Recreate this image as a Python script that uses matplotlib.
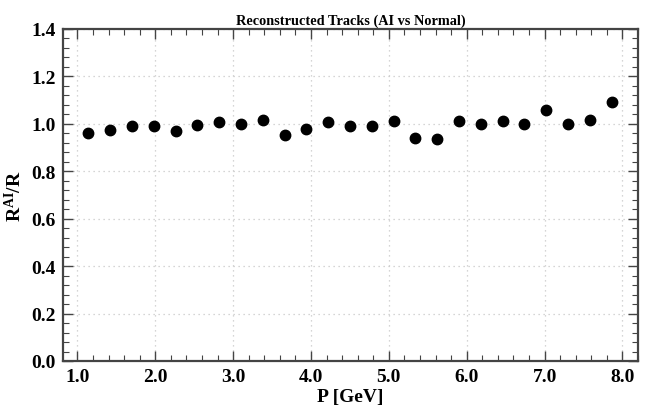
import matplotlib
matplotlib.use('Agg')
import matplotlib.pyplot as plt
from matplotlib.ticker import MultipleLocator, FormatStrFormatter

# momentum bin centres [GeV]
p_gev = [1.14, 1.42, 1.70, 1.98, 2.26, 2.54, 2.82, 3.10, 3.38, 3.66, 3.94, 4.22, 4.50,
         4.78, 5.06, 5.34, 5.62, 5.90, 6.18, 6.46, 6.74, 7.02, 7.30, 7.58, 7.86]
# ratio AI / normal
ratio = [0.960, 0.973, 0.990, 0.993, 0.969, 0.997, 1.007, 1.000, 1.017, 0.955, 0.977, 1.008, 0.992,
         0.990, 1.010, 0.939, 0.937, 1.014, 1.001, 1.014, 1.001, 1.057, 1.001, 1.018, 1.091]

plt.rcParams['font.family'] = 'Liberation Serif'
plt.rcParams['font.weight'] = 'bold'
plt.rcParams['mathtext.fontset'] = 'custom'
plt.rcParams['mathtext.rm'] = 'Liberation Serif:bold'
plt.rcParams['mathtext.bf'] = 'Liberation Serif:bold'
plt.rcParams['mathtext.it'] = 'Liberation Serif:bold'

fig = plt.figure(figsize=(6.53, 4.14), dpi=100)
ax = fig.add_axes([63/653, 1 - 362/414, 575/653, 332/414])

ax.plot(p_gev, ratio, 'o', color='black', ms=7.5, zorder=3)

ax.set_xlim(0.815, 8.2)
ax.set_ylim(0, 1.4)
ax.xaxis.set_major_locator(MultipleLocator(1.0))
ax.xaxis.set_minor_locator(MultipleLocator(0.2))
ax.yaxis.set_major_locator(MultipleLocator(0.2))
ax.yaxis.set_minor_locator(MultipleLocator(0.04))
ax.xaxis.set_major_formatter(FormatStrFormatter('%.1f'))
ax.yaxis.set_major_formatter(FormatStrFormatter('%.1f'))

ax.tick_params(which='both', direction='in', top=True, right=True, color='#444444')
ax.tick_params(which='major', length=7, width=1, labelsize=14, pad=5)
ax.tick_params(which='minor', length=4, width=0.8)
for lab in ax.get_xticklabels() + ax.get_yticklabels():
    lab.set_fontweight('bold')

for s in ax.spines.values():
    s.set_color('#444444')
    s.set_linewidth(1.6)

ax.grid(True, which='major', linestyle=(0, (1, 3)), color='#c8c8c8', linewidth=0.9)

ax.set_title('Reconstructed Tracks (AI vs Normal)', fontsize=10.3, fontweight='bold', pad=4)
ax.set_xlabel('P [GeV]', fontsize=14, fontweight='bold', labelpad=2)
ax.set_ylabel(r'$\mathregular{R^{AI}/R}$', fontsize=14, fontweight='bold', labelpad=5)

fig.savefig('out.png', dpi=100)
